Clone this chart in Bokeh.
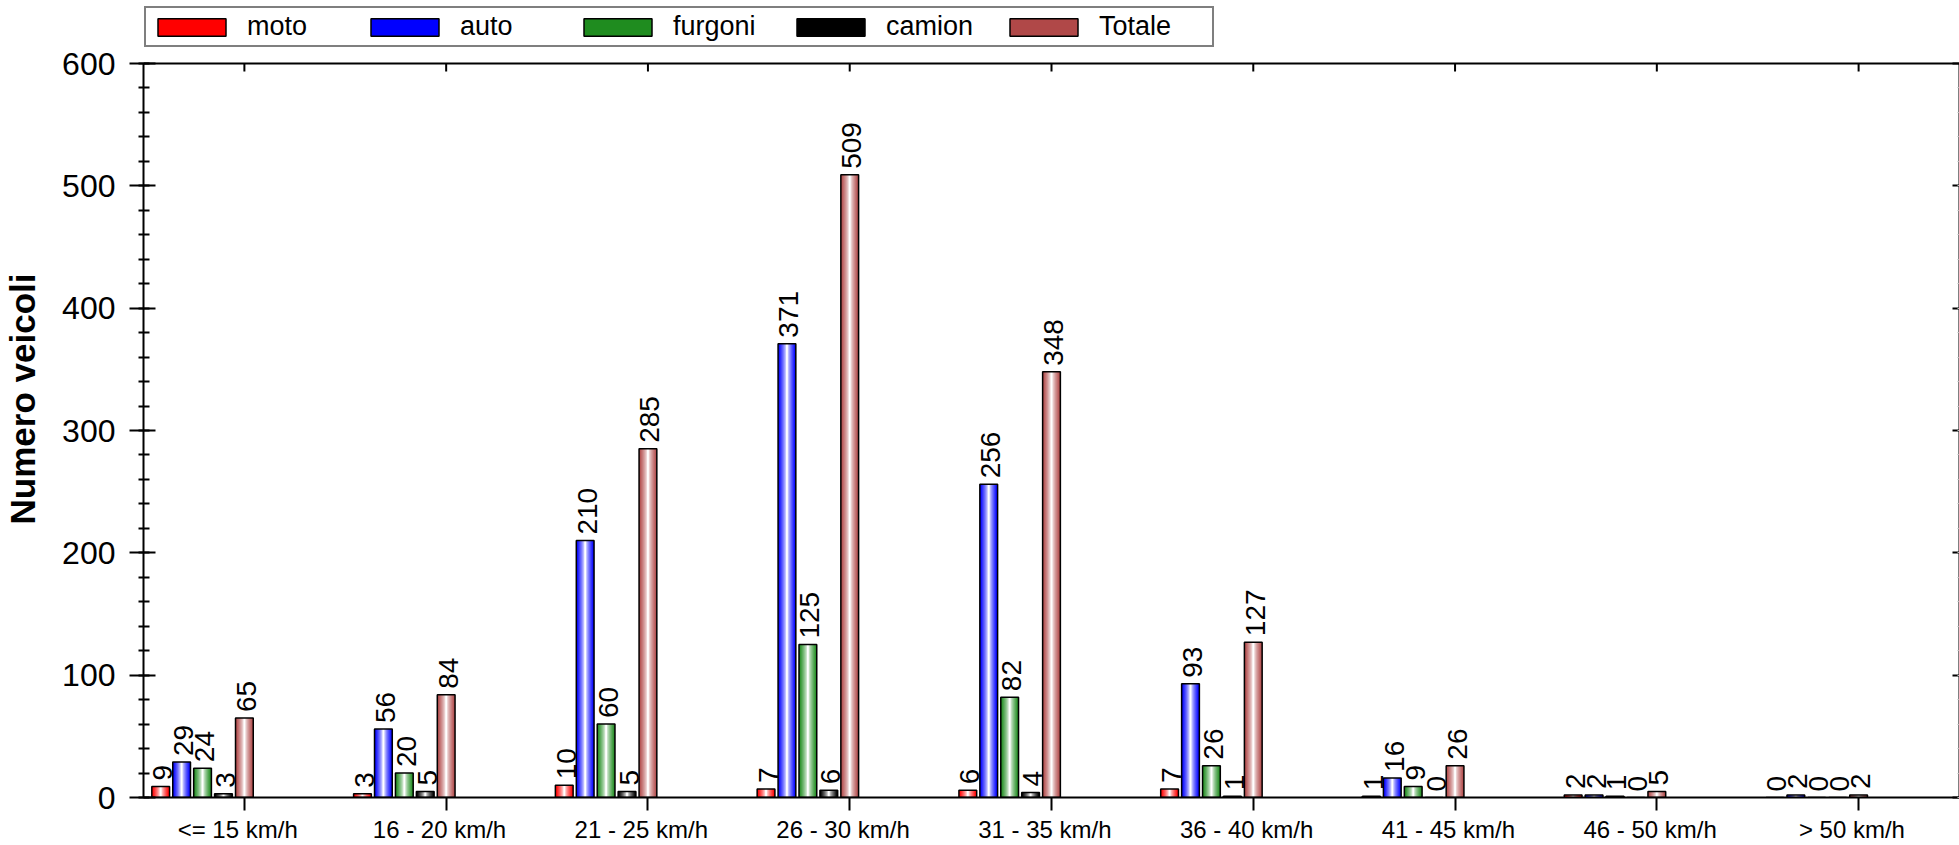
import numpy as np
from bokeh.plotting import figure
from bokeh.models import Range1d, FixedTicker, LinearAxis, Legend, LegendItem, Span
from bokeh.embed import file_html
from bokeh.resources import INLINE
from bokeh.core.properties import value

# ---- data ----
categories = ["<=  15  km/h", "16 -  20  km/h", "21 -  25  km/h", "26 -  30  km/h",
              "31 -  35  km/h", "36 -  40  km/h", "41 -  45  km/h", "46 -  50  km/h",
              ">  50  km/h"]
moto = [9, 3, 10, 7, 6, 7, 1, 2, 0]
auto = [29, 56, 210, 371, 256, 93, 16, 2, 2]
furgoni = [24, 20, 60, 125, 82, 26, 9, 1, 0]
camion = [3, 5, 5, 6, 4, 1, 0, 0, 0]
totale = [65, 84, 285, 509, 348, 127, 26, 5, 2]
series_names = ["moto", "auto", "furgoni", "camion", "Totale"]
y_ticks = [0, 100, 200, 300, 400, 500, 600]
y_minor = list(range(0, 601, 20))
Y_TOP = 600

# ---- style / layout ----
colors = ["#FF0000", "#0000FF", "#1F8C1F", "#000000", "#B04848"]
FONT = "Liberation Sans"
W, H = 1959, 845
BOTTOM_PANEL = 48          # px below the frame (x tick labels)
FRAME_H = H - BOTTOM_PANEL  # frame runs from the top of the canvas
AXIS_TOP_PX = 63            # where the 600 line sits (legend lives above it)
Y_MAX = Y_TOP * FRAME_H / (FRAME_H - AXIS_TOP_PX)
PX = Y_MAX / FRAME_H        # data units per pixel
SLOT = 0.1037
BAR_W = 0.088
N_LAYERS = 10


def mix(hexcol, t):
    """t=1 -> full colour, t=0 -> white"""
    r = int(hexcol[1:3], 16); g = int(hexcol[3:5], 16); b = int(hexcol[5:7], 16)
    r = round(r * t + 255 * (1 - t)); g = round(g * t + 255 * (1 - t)); b = round(b * t + 255 * (1 - t))
    return "#%02x%02x%02x" % (r, g, b)


p = figure(width=W, height=H, output_backend="svg", toolbar_location=None,
           x_range=Range1d(-0.5, 8.5), y_range=Range1d(0, Y_MAX),
           x_axis_location=None, y_axis_location=None,
           min_border_left=141, min_border_right=0, min_border_top=0,
           min_border_bottom=BOTTOM_PANEL)
p.outline_line_color = None
p.xgrid.visible = False
p.ygrid.visible = False
p.background_fill_color = "white"
p.border_fill_color = "white"

# ---- axes ----
left = LinearAxis(ticker=FixedTicker(ticks=y_ticks, minor_ticks=y_minor),
                  axis_label="Numero veicoli", bounds=(0, Y_TOP))
left.axis_label_text_font = FONT
left.axis_label_text_font_style = "bold"
left.axis_label_text_font_size = "35px"
left.axis_label_text_color = "black"
left.axis_label_standoff = 17
left.major_label_text_font = FONT
left.major_label_text_font_size = "32px"
left.major_label_text_color = "black"
left.major_label_standoff = 14
left.major_tick_out = 14
left.major_tick_in = 12
left.minor_tick_out = 5
left.minor_tick_in = 6
left.axis_line_width = 2
left.major_tick_line_width = 2
left.minor_tick_line_width = 2
p.add_layout(left, "left")

bottom = LinearAxis(ticker=FixedTicker(ticks=list(range(len(categories)))),
                    major_label_overrides={i: c for i, c in enumerate(categories)})
bottom.major_label_text_font = FONT
bottom.major_label_text_font_size = "24px"
bottom.major_label_text_color = "black"
bottom.major_label_standoff = 5
bottom.major_tick_out = 13
bottom.major_tick_in = 0
bottom.minor_tick_out = 0
bottom.minor_tick_in = 0
bottom.axis_line_width = 2
bottom.major_tick_line_width = 2
p.add_layout(bottom, "below")

right = LinearAxis(ticker=FixedTicker(ticks=y_ticks, minor_ticks=y_minor),
                   major_label_overrides={v: "" for v in y_ticks}, bounds=(0, Y_TOP))
right.major_label_standoff = 0
right.major_tick_out = 0
right.major_tick_in = 7
right.minor_tick_out = 0
right.minor_tick_in = 2
right.minor_tick_line_color = "#bbbbbb"
right.axis_line_width = 2
right.major_tick_line_width = 2
p.add_layout(right, "right")

# top boundary line at 600 with inward category ticks
p.add_layout(Span(location=Y_TOP, dimension="width", line_color="black", line_width=2))
p.segment(x0=list(range(len(categories))), y0=[Y_TOP] * len(categories),
          x1=list(range(len(categories))), y1=[Y_TOP - 8 * PX] * len(categories),
          line_color="black", line_width=2)

# ---- bars (horizontal colour -> white -> colour gradient built from nested bars) ----
all_series = [moto, auto, furgoni, camion, totale]
items = []
for s, (name, vals, col) in enumerate(zip(series_names, all_series, colors)):
    xs = [i + (s - 4) * SLOT for i in range(len(categories))]
    first = None
    for k in range(N_LAYERS):
        wfrac = 1 - k / N_LAYERS
        u = 1 - k / (N_LAYERS - 1)
        r = p.vbar(x=xs, top=vals, bottom=0, width=BAR_W * wfrac,
                   fill_color=mix(col, u ** 0.7), line_color=None)
        if first is None:
            first = r
    outline = p.vbar(x=xs, top=vals, bottom=0, width=BAR_W,
                     fill_color=None, line_color="black", line_width=1.5)
    p.text(x=xs, y=vals, text=[str(v) for v in vals], angle=np.pi / 2,
           text_align="left", text_baseline="middle",
           text_font=value(FONT), text_font_size="28px", text_color="black",
           x_offset=2, y_offset=-6)
    items.append(LegendItem(label=name, renderers=[first, outline]))

# legend location = bottom-left corner, in px from the frame's bottom-left
legend = Legend(items=items, orientation="horizontal", location=(1, FRAME_H - 47))
legend.label_text_font = FONT
legend.label_text_font_size = "27px"
legend.label_text_color = "black"
legend.label_standoff = 13
legend.label_width = 110
legend.glyph_width = 85
legend.glyph_height = 22
legend.spacing = 5
legend.padding = 3
legend.margin = 0
legend.border_line_color = "black"
legend.border_line_width = 2
legend.background_fill_color = "white"
legend.background_fill_alpha = 1.0
p.add_layout(legend, "center")

open("out.html", "w").write(file_html(p, INLINE))
